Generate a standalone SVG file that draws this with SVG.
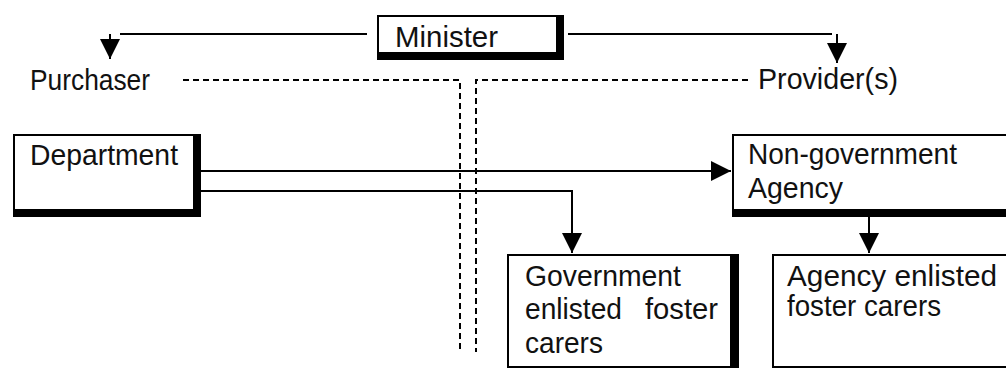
<svg xmlns="http://www.w3.org/2000/svg" width="1006" height="368" viewBox="0 0 1006 368">
<defs>
<style>
text{font-family:"Liberation Sans",Arial,sans-serif;font-size:29px;fill:#111}
.sh{fill:#000}
.in{fill:#fff}
.con{fill:none;stroke:#000;stroke-width:2}
.dash{fill:none;stroke:#000;stroke-width:2;stroke-dasharray:6 4}
</style>
<marker id="arr" viewBox="0 0 20 20" refX="20" refY="10" markerWidth="20" markerHeight="20" markerUnits="userSpaceOnUse" orient="auto">
<path d="M0,0 L20,10 L0,20 z" fill="#000"/>
</marker>
</defs>
<rect width="1006" height="368" fill="#fff"/>
<g id="connectors">
<path class="dash" d="M183,80 H460 V352"/>
<path class="dash" d="M748,80 H476 V352"/>
<path class="con" d="M367,34 H120 M110,34 V59" marker-end="url(#arr)"/>
<path class="con" d="M568,34 H832 M837,34 V63" marker-end="url(#arr)"/>
<path class="con" d="M201,171 H731" marker-end="url(#arr)"/>
<path class="con" d="M201,191 H572 V253" marker-end="url(#arr)"/>
<path class="con" d="M869,217 V253" marker-end="url(#arr)"/>
</g>
<g id="minister">
<rect class="sh" x="377" y="15" width="187" height="45"/>
<rect class="in" x="379" y="17" width="177" height="35"/>
<text x="395" y="47" textLength="103" lengthAdjust="spacingAndGlyphs">Minister</text>
</g>
<g id="purchaser">
<text x="30" y="90" textLength="120" lengthAdjust="spacingAndGlyphs">Purchaser</text>
</g>
<g id="provider">
<text x="758" y="89" textLength="140" lengthAdjust="spacingAndGlyphs">Provider(s)</text>
</g>
<g id="department">
<rect class="sh" x="13" y="134" width="188" height="83"/>
<rect class="in" x="15" y="136" width="178" height="73"/>
<text x="30" y="165" textLength="148" lengthAdjust="spacingAndGlyphs">Department</text>
</g>
<g id="ngo">
<rect class="sh" x="732" y="134" width="280" height="83"/>
<rect class="in" x="734" y="136" width="280" height="73"/>
<text x="748" y="164" textLength="209" lengthAdjust="spacingAndGlyphs">Non-government</text>
<text x="748" y="198" textLength="95" lengthAdjust="spacingAndGlyphs">Agency</text>
</g>
<g id="government-carers">
<rect class="sh" x="507" y="254" width="232" height="114"/>
<rect class="in" x="509" y="256" width="221" height="110"/>
<text x="525" y="286" textLength="156" lengthAdjust="spacingAndGlyphs">Government</text>
<text x="525" y="319" textLength="97" lengthAdjust="spacingAndGlyphs">enlisted</text>
<text x="645" y="319" textLength="73" lengthAdjust="spacingAndGlyphs">foster</text>
<text x="525" y="353" textLength="78" lengthAdjust="spacingAndGlyphs">carers</text>
</g>
<g id="agency-carers">
<rect class="sh" x="772" y="254" width="240" height="114"/>
<rect class="in" x="774" y="256" width="240" height="110"/>
<text x="787" y="286" textLength="210" lengthAdjust="spacingAndGlyphs">Agency enlisted</text>
<text x="787" y="316" textLength="154" lengthAdjust="spacingAndGlyphs">foster carers</text>
</g>
</svg>
